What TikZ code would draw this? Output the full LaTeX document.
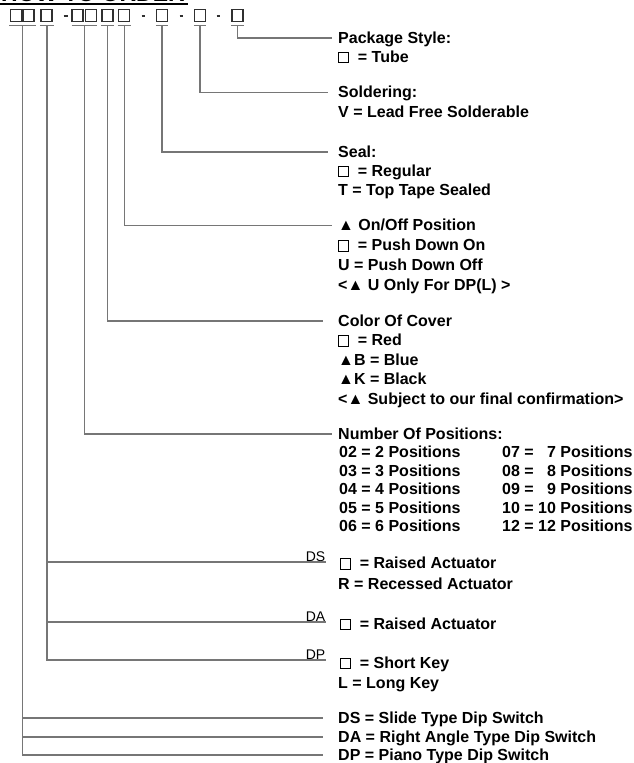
\documentclass[tikz,border=0pt]{standalone}
\usepackage{fontspec}
\setmainfont{Liberation Sans}
\usetikzlibrary{positioning}
\definecolor{LeadGray}{HTML}{767676}
\definecolor{KeyBlack}{HTML}{303030}
\newcommand{\bx}{{\setlength{\fboxsep}{0pt}\setlength{\fboxrule}{1.2pt}\fbox{\rule{0pt}{9.2pt}\hspace{8.4pt}}}}
\newcommand{\tri}{▲}

\begin{document}
\begin{tikzpicture}[x=1pt, y=-1pt,
    lead/.style={draw=LeadGray, line width=1.2pt},
    uline/.style={draw=LeadGray, line width=1pt},
    keybox/.style={draw=KeyBlack, line width=1.2pt},
    field/.style={inner sep=0pt, minimum height=0pt, text height=0pt, text depth=0pt},
    item/.style={anchor=west, inner sep=0pt, text height=10pt, text depth=0pt, font=\fontsize{16}{19}\selectfont\bfseries},
    tag/.style={anchor=south east, inner sep=0.5pt, font=\fontsize{14}{16}\selectfont}]
        \useasboundingbox (0,0) rectangle (633,763);

        % Title (cut at the top)
        \node[anchor=base west, inner sep=0pt, font=\fontsize{23}{23}\selectfont\bfseries] (title) at (1,1.5) {HOW TO ORDER};
        \draw[line width=2pt, black] (0,3.5) -- (188,3.5);

        % Code row
        \foreach \k in {16,28.5,46.5,77.5,91,107.5,124,162,200,237.5}
            \draw[keybox] (\k-5.5,9.5) rectangle (\k+5.5,21.5);
        \draw[line width=1.5pt, KeyBlack] (63.5,16) -- (67.5,16);
        \foreach \k in {143,181,218}
            \draw[line width=1.5pt, KeyBlack] (\k-1.5,16) -- (\k+1.5,16);

        % Code fields
        \node[field, minimum width=27pt] (type) at (22.7,25) {};
        \node[field, minimum width=14pt] (act) at (47,25) {};
        \node[field, minimum width=25pt] (pos) at (84.3,25) {};
        \node[field, minimum width=13pt] (cover) at (107.7,25) {};
        \node[field, minimum width=13pt] (onoff) at (124.3,25) {};
        \node[field, minimum width=12pt] (seal) at (162,25) {};
        \node[field, minimum width=12pt] (solder) at (200,25) {};
        \node[field, minimum width=12pt] (pack) at (237.5,25) {};
        \foreach \f in {type,act,pos,cover,onoff,seal,solder,pack}
            \draw[uline] (\f.south west) -- (\f.south east);

        % Package style
        \node[item] (packT) at (338,38) {Package Style:};
        \node[item] (packA) at (338,57) {\bx\ \ = Tube};

        % Soldering
        \node[item] (solT) at (338,92.7) {Soldering:};
        \node[item] (solA) at (338,112) {V = Lead Free Solderable};

        % Seal
        \node[item] (sealT) at (338,152) {Seal:};
        \node[item] (sealA) at (338,171) {\bx\ \ = Regular};
        \node[item] (sealB) at (338,190) {T = Top Tape Sealed};

        % On/Off position
        \node[item] (onT) at (338,225.7) {\tri\ On/Off Position};
        \node[item] (onA) at (338,245.5) {\bx\ \ = Push Down On};
        \node[item] (onB) at (338,265.3) {U = Push Down Off};
        \node[item] (onC) at (338,285) {<\tri\ U Only For DP(L) >};

        % Color of cover
        \node[item] (covT) at (338,321) {Color Of Cover};
        \node[item] (covA) at (338,340.5) {\bx\ \ = Red};
        \node[item] (covB) at (338,360) {\tri B = Blue};
        \node[item] (covC) at (338,379.5) {\tri K = Black};
        \node[item] (covD) at (338,399) {<\tri\ Subject to our final confirmation>};

        % Number of positions
        \node[item] (numT) at (338,434) {Number Of Positions:};
        \node[item] (num02) at (339,452.5) {02 = 2 Positions};
        \node[item] (num03) at (339,471) {03 = 3 Positions};
        \node[item] (num04) at (339,489.5) {04 = 4 Positions};
        \node[item] (num05) at (339,508) {05 = 5 Positions};
        \node[item] (num06) at (339,526.5) {06 = 6 Positions};
        \node[item] (num07) at (502,452.5) {07 = \phantom{1}7 Positions};
        \node[item] (num08) at (502,471) {08 = \phantom{1}8 Positions};
        \node[item] (num09) at (502,489.5) {09 = \phantom{1}9 Positions};
        \node[item] (num10) at (502,508) {10 = 10 Positions};
        \node[item] (num12) at (502,526.5) {12 = 12 Positions};

        % Actuator by type
        \node[item] (dsA) at (340,563.5) {\bx\ \ = Raised Actuator};
        \node[item] (dsB) at (338,584) {R = Recessed Actuator};
        \node[item] (daA) at (340,624) {\bx\ \ = Raised Actuator};
        \node[item] (dpA) at (340,663) {\bx\ \ = Short Key};
        \node[item] (dpB) at (338,683) {L = Long Key};
        \coordinate (dsEnd) at (326,562);
        \coordinate (daEnd) at (326,622);
        \coordinate (dpEnd) at (326,660);
        \node[tag] (dsTag) at (dsEnd) {DS};
        \node[tag] (daTag) at (daEnd) {DA};
        \node[tag] (dpTag) at (dpEnd) {DP};

        % Switch type
        \node[item] (typeDS) at (338,718) {DS = Slide Type Dip Switch};
        \node[item] (typeDA) at (338,737) {DA = Right Angle Type Dip Switch};
        \node[item] (typeDP) at (338,755) {DP = Piano Type Dip Switch};

        % Leaders
        \draw[lead] (pack.south) |- ([xshift=-6pt]packT.west);
        \draw[lead] (solder.south) |- ([xshift=-10pt]solT.west);
        \draw[lead] (seal.south) |- ([xshift=-10pt]sealT.west);
        \draw[lead] (onoff.south) |- ([xshift=-6pt]onT.west);
        \draw[lead] (cover.south) |- ([xshift=-15pt]covT.west);
        \draw[lead] (pos.south) |- ([xshift=-6pt]numT.west);
        \draw[lead] (act.south) |- (dsEnd);
        \draw[lead] (act.south) |- (daEnd);
        \draw[lead] (act.south) |- (dpEnd);
        \draw[lead] (type.south) |- ([xshift=-15pt]typeDS.west);
        \draw[lead] (type.south) |- ([xshift=-15pt]typeDA.west);
        \draw[lead] (type.south) |- ([xshift=-15pt]typeDP.west);
\end{tikzpicture}
\end{document}
